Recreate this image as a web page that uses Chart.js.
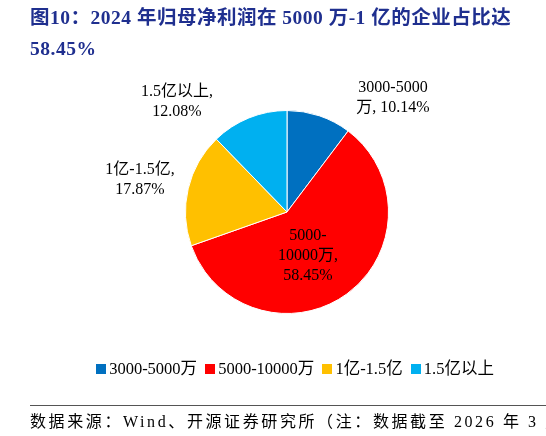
<!DOCTYPE html>
<html><head><meta charset="utf-8">
<script src="https://cdn.jsdelivr.net/npm/chart.js@4"></script>
<style>
body{margin:0;width:546px;height:436px;position:relative;background:#fff;font-family:"Liberation Serif","Noto Sans CJK SC",serif;overflow:hidden}
#title{position:absolute;left:30px;top:2px;color:#1F2F8F;font-weight:bold;font-size:19.5px;line-height:31px;letter-spacing:0.5px}
#c{position:absolute;left:0;top:0}
#legend{position:absolute;top:355px;left:0;width:546px;text-align:center;font-size:16.5px;padding-left:44px;box-sizing:border-box}
#legend span{margin:0 4px}
#legend i{display:inline-block;width:10px;height:10px;margin-right:3px}
#rule{position:absolute;left:30px;right:0;top:405px;border-top:1px solid #555}
#foot{position:absolute;left:30px;top:408px;font-size:16px;white-space:nowrap;letter-spacing:2.6px}
</style></head><body>
<canvas id="c" width="546" height="436"></canvas>
<div id="title">图10：2024 年归母净利润在 5000 万-1 亿的企业占比达<br>58.45%</div>
<div id="legend"></div>
<div id="rule"></div>
<div id="foot">数据来源：Wind、开源证券研究所（注：数据截至 2026 年 3 月</div>
<script>
const categories = ['3000-5000万', '5000-10000万', '1亿-1.5亿', '1.5亿以上'];
const shares = [10.14, 58.45, 17.87, 12.08];
const labelLines = [['3000-5000', '万, 10.14%'], ['5000-', '10000万,', '58.45%'], ['1亿-1.5亿,', '17.87%'], ['1.5亿以上,', '12.08%']];
const colors = ['#0070C0', '#FF0000', '#FFC000', '#00B0F0'];
// label placement: [x, y] of first line centre
const labelPos = [[393, 88], [308, 236], [140, 170], [177, 92]];

document.getElementById('legend').innerHTML = categories.map((c, i) =>
  `<span><i style="background:${colors[i]}"></i>${c}</span>`).join('');

const labelPlugin = {
  id: 'labels',
  afterDraw(chart) {
    const ctx = chart.ctx;
    ctx.save();
    ctx.font = '16px "Liberation Serif","Noto Sans CJK SC",serif';
    ctx.fillStyle = '#000';
    ctx.textAlign = 'center';
    ctx.textBaseline = 'middle';
    labelLines.forEach((lines, i) => {
      lines.forEach((t, j) => ctx.fillText(t, labelPos[i][0], labelPos[i][1] + j * 20));
    });
    ctx.restore();
  }
};

new Chart(document.getElementById('c'), {
  type: 'pie',
  data: {
    labels: categories,
    datasets: [{ data: shares, backgroundColor: colors, borderColor: '#fff', borderWidth: 1 }]
  },
  options: {
    responsive: false,
    animation: false,
    layout: { padding: { top: 110, bottom: 122, left: 185, right: 157 } },
    plugins: { legend: { display: false }, tooltip: { enabled: false } }
  },
  plugins: [labelPlugin]
});
</script>
</body></html>
